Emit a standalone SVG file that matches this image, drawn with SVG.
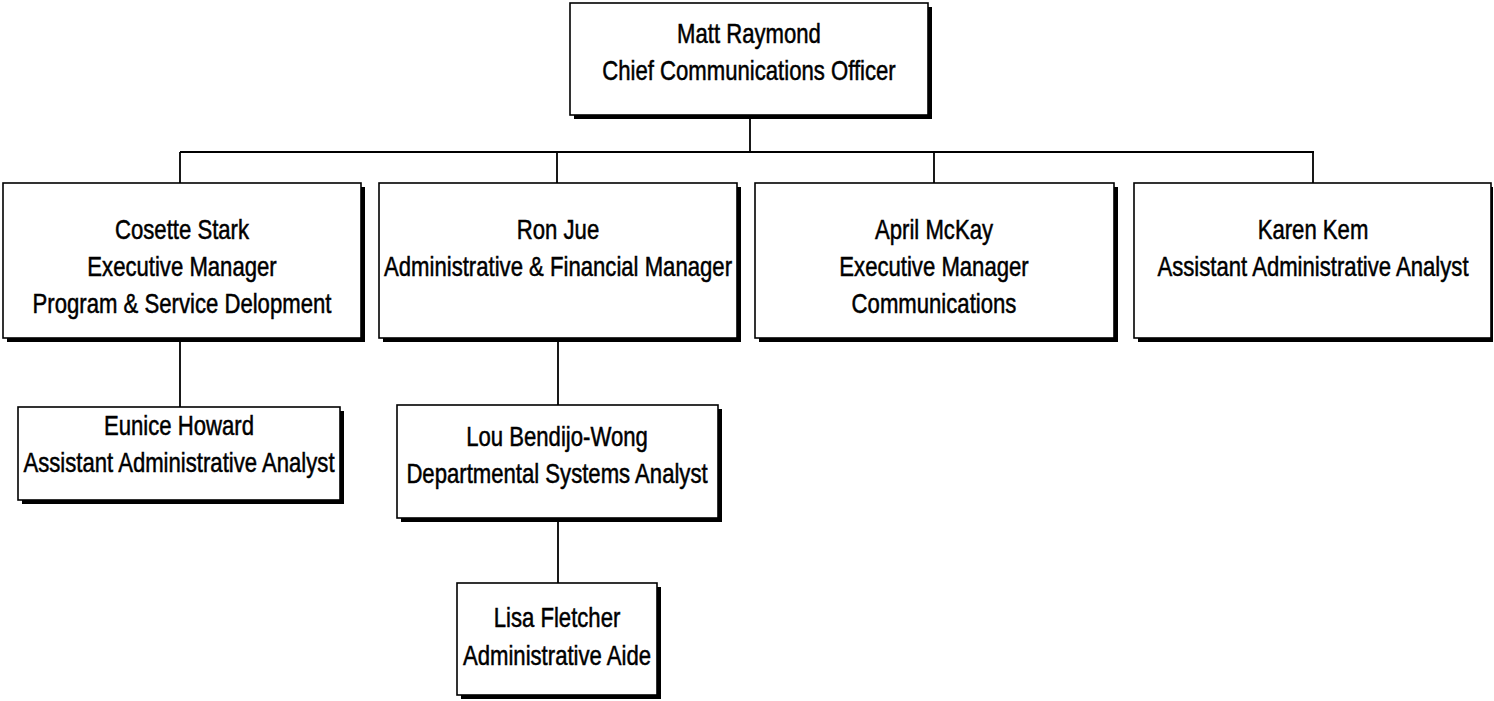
<svg xmlns="http://www.w3.org/2000/svg" width="1494" height="701" viewBox="0 0 1494 701">
<style>
.bg{fill:#fff}
.sh{fill:#000}
.box{fill:#fff;stroke:#000;stroke-width:1.6}
.t{font-family:"Liberation Sans",Arial,sans-serif;font-size:27px;text-anchor:middle;fill:#000;stroke:#000;stroke-width:0.5}
.ln{fill:none;stroke:#000;stroke-width:1.8}
</style>
<rect class="bg" x="0" y="0" width="1494" height="701"/>
<g id="connectors">
<path class="ln" d="M750 118V152M180 152H1314M180 152V183M557 152V183M934 152V183M1313 152V183"/>
<path class="ln" d="M180 341V407M558 341V405M558 521V583"/>
</g>
<g id="matt">
<rect class="sh" x="574" y="7" width="358" height="112"/>
<rect class="box" x="570" y="3" width="358" height="112"/>
<text class="t" transform="translate(749,43) scale(0.82,1)">Matt Raymond</text>
<text class="t" transform="translate(749,80) scale(0.82,1)">Chief Communications Officer</text>
</g>
<g id="cosette">
<rect class="sh" x="7" y="187" width="358" height="155"/>
<rect class="box" x="3" y="183" width="358" height="155"/>
<text class="t" transform="translate(182,239) scale(0.82,1)">Cosette Stark</text>
<text class="t" transform="translate(182,276) scale(0.82,1)">Executive Manager</text>
<text class="t" transform="translate(182,313) scale(0.82,1)">Program &amp; Service Delopment</text>
</g>
<g id="ron">
<rect class="sh" x="383" y="187" width="358" height="155"/>
<rect class="box" x="379" y="183" width="358" height="155"/>
<text class="t" transform="translate(558,239) scale(0.82,1)">Ron Jue</text>
<text class="t" transform="translate(558,276) scale(0.82,1)">Administrative &amp; Financial Manager</text>
</g>
<g id="april">
<rect class="sh" x="759" y="187" width="359" height="155"/>
<rect class="box" x="755" y="183" width="359" height="155"/>
<text class="t" transform="translate(934,239) scale(0.82,1)">April McKay</text>
<text class="t" transform="translate(934,276) scale(0.82,1)">Executive Manager</text>
<text class="t" transform="translate(934,313) scale(0.82,1)">Communications</text>
</g>
<g id="karen">
<rect class="sh" x="1138" y="187" width="355" height="155"/>
<rect class="box" x="1134" y="183" width="357" height="155"/>
<text class="t" transform="translate(1313,239) scale(0.82,1)">Karen Kem</text>
<text class="t" transform="translate(1313,276) scale(0.82,1)">Assistant Administrative Analyst</text>
</g>
<g id="eunice">
<rect class="sh" x="22" y="411" width="322" height="93"/>
<rect class="box" x="18" y="407" width="322" height="93"/>
<text class="t" transform="translate(179,435) scale(0.82,1)">Eunice Howard</text>
<text class="t" transform="translate(179,472) scale(0.82,1)">Assistant Administrative Analyst</text>
</g>
<g id="lou">
<rect class="sh" x="401" y="409" width="321" height="113"/>
<rect class="box" x="397" y="405" width="321" height="113"/>
<text class="t" transform="translate(557,446) scale(0.82,1)">Lou Bendijo-Wong</text>
<text class="t" transform="translate(557,483) scale(0.82,1)">Departmental Systems Analyst</text>
</g>
<g id="lisa">
<rect class="sh" x="461" y="587" width="200" height="112"/>
<rect class="box" x="457" y="583" width="200" height="112"/>
<text class="t" transform="translate(557,627) scale(0.82,1)">Lisa Fletcher</text>
<text class="t" transform="translate(557,665) scale(0.82,1)">Administrative Aide</text>
</g>
</svg>
